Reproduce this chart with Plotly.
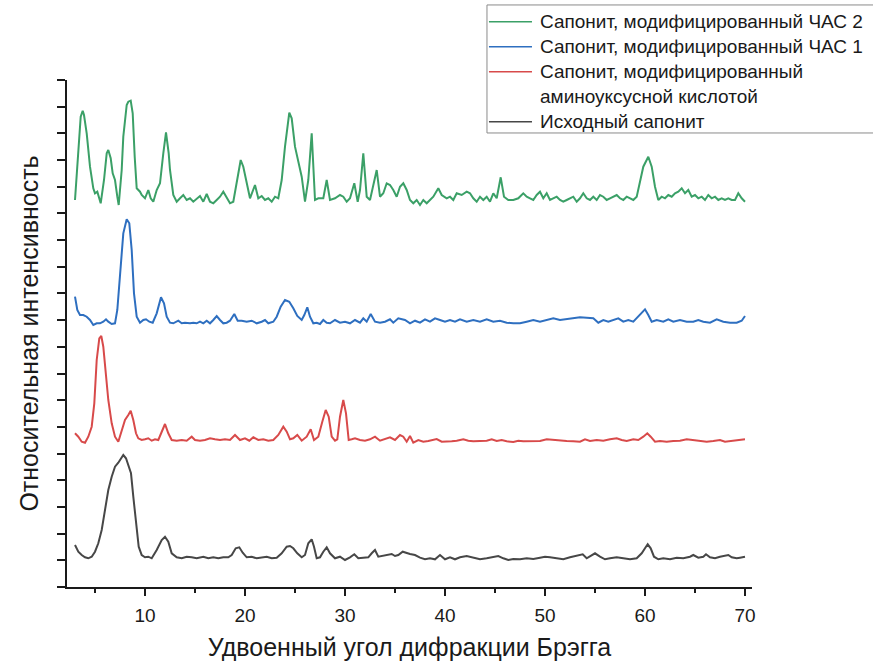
import plotly.graph_objects as go

# ---- XRD patterns (2θ, degrees ; relative intensity, a.u., stacked) ----
two_theta_sas2 = [3.0, 3.57, 3.77, 3.9, 4.17, 4.5, 4.83, 5.0, 5.23, 5.43, 5.57, 5.9, 6.17, 6.33, 6.57, 6.77, 7.0, 7.23, 7.37,
                  7.67, 7.83, 8.17, 8.33, 8.57, 8.77, 8.97, 9.17, 9.5, 9.67, 10.0, 10.33, 10.57, 10.83, 11.17, 11.5, 11.83,
                  12.1, 12.37, 12.5, 12.83, 13.17, 13.5, 13.83, 14.17, 14.5, 14.83, 15.17, 15.5, 15.83, 16.17, 16.5, 16.83,
                  17.17, 17.5, 17.83, 18.17, 18.5, 18.83, 19.17, 19.57, 19.83, 20.17, 20.5, 21.0, 21.33, 21.67, 22.0, 22.33,
                  22.67, 23.0, 23.33, 23.67, 24.0, 24.43, 24.67, 25.0, 25.33, 25.67, 26.0, 26.33, 26.67, 27.0, 27.33, 27.83,
                  28.17, 28.5, 29.0, 29.5, 29.83, 30.17, 30.5, 30.93, 31.27, 31.5, 31.83, 32.17, 32.5, 32.83, 33.17, 33.5,
                  33.83, 34.17, 34.5, 34.83, 35.17, 35.5, 35.83, 36.17, 36.5, 36.83, 37.17, 37.5, 37.83, 38.17, 38.5, 38.83,
                  39.33, 39.67, 40.17, 40.5, 40.83, 41.17, 41.67, 42.17, 42.5, 42.83, 43.17, 43.5, 43.83, 44.17, 44.5, 44.83,
                  45.17, 45.57, 45.9, 46.33, 46.83, 47.33, 47.83, 48.17, 48.5, 48.83, 49.17, 49.5, 49.83, 50.17, 50.5, 50.83,
                  51.17, 51.5, 51.83, 52.17, 52.5, 52.83, 53.17, 53.5, 53.83, 54.17, 54.5, 54.83, 55.17, 55.5, 55.83, 56.17,
                  56.5, 56.83, 57.17, 57.5, 57.83, 58.17, 58.5, 58.83, 59.17, 59.5, 59.83, 60.33, 60.67, 61.0, 61.33, 61.67,
                  62.0, 62.33, 62.67, 63.0, 63.33, 63.67, 64.0, 64.33, 64.67, 65.0, 65.33, 65.67, 66.0, 66.33, 66.67, 67.0,
                  67.33, 67.67, 68.0, 68.33, 68.67, 69.0, 69.33, 69.67, 70.0]
intensity_sas2 = [387, 470.3, 476.3, 472, 453.7, 420.3, 398.7, 393.7, 395.3, 388.7, 383.7, 407, 433.7, 437, 428.7, 413.7, 407,
                  390.3, 382, 417, 450.3, 482, 485.3, 486.3, 473.7, 430.3, 398.7, 395.3, 392, 388.7, 397, 388.7, 385.3, 397,
                  403.7, 433.7, 454.7, 433.7, 417, 392, 385.3, 388.7, 392, 387, 388.7, 385.3, 388.7, 391, 385.3, 393, 385.3,
                  383.7, 387, 390.3, 395.3, 388.7, 383.7, 385.3, 403.7, 427, 420.3, 403.7, 388.7, 402, 388.7, 391, 387, 388.7,
                  385.3, 390.3, 388.7, 407, 440.3, 474.3, 468.7, 440.3, 423.7, 410.3, 385.3, 407, 453.7, 387, 388.7, 388.7,
                  407, 387, 388.7, 392, 390.3, 385.3, 388.7, 403.7, 385.3, 397, 433.7, 390.3, 387, 400.3, 417, 390.3,
                  393.7, 403.7, 402, 397, 390.3, 400.3, 403.7, 397, 387, 383.7, 387, 382, 387, 383.7, 387, 390.3,
                  398.7, 392, 388.7, 390.3, 387, 393.7, 392, 395.3, 393.7, 388.7, 385.3, 390.3, 387, 390.3, 385.3, 393.7,
                  388.7, 409.7, 390.3, 387, 387, 388.7, 393.7, 390.3, 388.7, 387, 392, 395.3, 388.7, 393.7, 387, 388.7,
                  390.3, 387, 385.3, 387, 388.7, 390.3, 385.3, 388.7, 393.7, 388.7, 387, 390.3, 387, 392, 390.3, 387,
                  388.7, 390.3, 392, 388.7, 387, 390.3, 388.7, 387, 390.3, 407, 420.3, 430.3, 420.3, 400.3, 387, 390.3,
                  388.7, 392, 390.3, 393.7, 395.3, 398.7, 393.7, 397, 390.3, 392, 388.7, 390.3, 387, 392, 388.7, 390.3,
                  387, 388.7, 387, 388.7, 387, 387, 393.7, 388.7, 385.3]

two_theta_sas1 = [3.0, 3.23, 3.5, 3.83, 4.17, 4.5, 4.83, 5.17, 5.5, 5.83, 6.1, 6.33, 6.67, 7.0, 7.23, 7.5, 7.83, 8.17, 8.43,
                  8.67, 8.9, 9.17, 9.5, 9.83, 10.1, 10.43, 10.77, 11.17, 11.6, 11.9, 12.17, 12.5, 12.83, 13.33, 13.67, 14.0,
                  14.5, 14.83, 15.17, 15.5, 15.83, 16.17, 16.5, 16.83, 17.17, 17.5, 17.83, 18.17, 18.5, 18.93, 19.27, 19.67,
                  20.17, 20.67, 21.17, 21.67, 22.0, 22.33, 22.83, 23.17, 23.57, 24.0, 24.43, 24.83, 25.23, 25.67, 25.93,
                  26.23, 26.5, 26.83, 27.17, 27.5, 27.83, 28.17, 28.5, 29.0, 29.5, 30.0, 30.5, 31.0, 31.5, 31.83, 32.17,
                  32.57, 33.0, 33.5, 34.0, 34.5, 34.83, 35.33, 36.0, 36.5, 37.0, 37.5, 38.0, 38.5, 39.0, 39.5, 40.0, 40.5,
                  41.0, 41.5, 42.17, 42.83, 43.5, 44.17, 44.83, 45.5, 46.17, 46.83, 47.5, 48.17, 48.83, 49.5, 50.17, 50.83,
                  51.5, 52.17, 52.83, 53.5, 54.17, 54.83, 55.33, 55.83, 56.33, 56.83, 57.33, 57.83, 58.33, 58.83, 59.33,
                  60.0, 60.33, 60.67, 61.17, 61.83, 62.33, 62.83, 63.5, 64.17, 64.83, 65.33, 65.83, 66.5, 67.17, 67.83,
                  68.5, 69.17, 69.67, 70.0]
intensity_sas1 = [290.3, 277, 272, 272, 270.3, 267, 262, 263.7, 263.7, 265.3, 267.7, 265.3, 263, 263.7, 277, 313.7, 353.7,
                  367.7, 363.7, 337, 293.7, 270.3, 264.3, 267, 267.7, 265.3, 264.3, 273.7, 289.7, 283.7, 270.3, 264.3,
                  263.7, 266.3, 263.7, 264.3, 263.7, 264.3, 263.7, 265.3, 263.7, 266.3, 263.7, 267, 271, 267, 263.7, 264.3,
                  266.3, 273, 266.3, 266.3, 265.3, 266.3, 263.7, 265.3, 267, 263.7, 265.3, 270.3, 280.3, 287, 285.3, 278.7,
                  271, 267, 272, 279.7, 270.3, 263.7, 264.3, 263, 267, 264.3, 263.7, 267, 264.3, 265.3, 263.7, 267, 264.3,
                  268.7, 265.3, 273, 265.3, 264.3, 265.3, 267.7, 264.3, 268.7, 267, 263.7, 266.3, 264.3, 267.7, 265.3,
                  268.7, 267, 265.3, 267, 265.3, 267.7, 265.3, 267, 265.3, 267.7, 265.3, 266.3, 264.3, 263.7, 263.7, 265.3,
                  267, 265.3, 267, 268.7, 267, 267.7, 268.7, 269.7, 269.3, 268.7, 264.3, 267, 265.3, 267, 268.7, 265.3,
                  267, 265.3, 270.3, 277.7, 272, 265.3, 267, 265.3, 267.7, 265.3, 267, 265.3, 265.3, 267, 265.3, 264.3,
                  267.7, 265.3, 264.3, 264.3, 266.3, 271]

two_theta_gly = [3.0, 3.33, 3.67, 4.0, 4.33, 4.67, 4.93, 5.17, 5.43, 5.63, 5.83, 6.1, 6.33, 6.67, 7.0, 7.33, 7.67, 8.0, 8.33,
                 8.57, 8.83, 9.1, 9.33, 9.67, 10.0, 10.33, 10.67, 11.0, 11.33, 11.67, 12.0, 12.33, 12.67, 13.17, 13.67,
                 14.17, 14.67, 15.0, 15.5, 16.0, 16.5, 17.0, 17.5, 18.0, 18.5, 19.0, 19.5, 20.0, 20.43, 20.83, 21.33,
                 21.83, 22.33, 22.83, 23.33, 23.83, 24.17, 24.5, 24.83, 25.23, 25.67, 26.17, 26.57, 26.9, 27.33, 27.73,
                 28.07, 28.37, 28.67, 29.0, 29.23, 29.5, 29.83, 30.1, 30.37, 30.67, 31.0, 31.5, 32.0, 32.5, 33.0, 33.5,
                 34.0, 34.5, 35.0, 35.5, 35.83, 36.17, 36.5, 36.83, 37.33, 37.83, 38.33, 38.83, 39.17, 39.67, 40.17,
                 40.67, 41.17, 41.83, 42.33, 42.83, 43.5, 44.17, 44.67, 45.17, 45.67, 46.17, 46.83, 47.33, 47.83, 48.33,
                 48.83, 49.5, 50.17, 50.83, 51.5, 52.17, 52.83, 53.5, 54.0, 54.5, 55.17, 55.83, 56.5, 57.17, 57.67,
                 58.17, 58.83, 59.33, 59.83, 60.23, 60.57, 61.0, 61.5, 62.17, 62.83, 63.5, 64.17, 64.83, 65.5, 66.17,
                 66.83, 67.5, 68.0, 68.5, 69.17, 69.67, 70.0]
intensity_gly = [153.7, 150.3, 145.3, 144.3, 150.3, 160.3, 183.7, 227, 248.7, 251, 240.3, 213.7, 187, 163.7, 150.3, 145.3,
                 155.3, 167, 172, 176.3, 167, 153.7, 148.7, 147, 147.7, 148.7, 146.3, 147.7, 147, 155.3, 163, 153.7, 147,
                 146.3, 147, 146.3, 150.3, 147, 146.3, 147, 148.7, 147.7, 147, 147.7, 147, 152, 147, 148.7, 146.3, 149.7,
                 147, 147.7, 146.3, 147, 152, 160.3, 155.3, 147.7, 148.7, 152, 146.3, 150.3, 157.7, 147, 150.3, 165.3, 177,
                 170.3, 150.3, 146.3, 147.7, 170.3, 187, 173.7, 147, 147.7, 148.7, 147, 146.3, 147.7, 150.3, 146.3, 147.7,
                 149.7, 147, 152, 150.3, 145.3, 151, 144.3, 147, 145.3, 146, 147, 148, 145.3, 145.3, 145.7, 146.3, 147.7,
                 146.3, 145.7, 146, 146.3, 147.7, 146, 147, 145.7, 145, 146.3, 145.7, 146, 146.3, 146, 147.7, 147, 146.3,
                 146, 145.7, 145.3, 147.7, 146, 147, 146.3, 147.7, 148.7, 147, 146, 147.7, 147, 150.3, 153.7, 150.3, 145.3,
                 146, 145.3, 146, 146.3, 147.7, 147, 146, 145.3, 146, 147, 145.3, 146, 146.3, 147, 147.7]

two_theta_raw = [3.0, 3.33, 3.67, 4.0, 4.33, 4.67, 5.0, 5.33, 5.67, 6.0, 6.33, 6.67, 7.0, 7.33, 7.6, 7.83, 8.1, 8.33, 8.6,
                 8.83, 9.1, 9.37, 9.67, 10.0, 10.33, 10.67, 11.17, 11.67, 12.0, 12.33, 12.67, 13.17, 13.67, 14.17, 14.67,
                 15.17, 15.83, 16.33, 16.83, 17.33, 17.83, 18.33, 18.67, 19.07, 19.43, 19.77, 20.17, 20.67, 21.17, 21.67,
                 22.17, 22.67, 23.17, 23.67, 24.17, 24.5, 24.83, 25.23, 25.67, 26.0, 26.33, 26.67, 26.9, 27.17, 27.5,
                 27.83, 28.17, 28.5, 29.0, 29.5, 30.0, 30.5, 30.93, 31.33, 31.83, 32.33, 32.67, 33.0, 33.33, 33.67, 34.17,
                 34.67, 35.0, 35.33, 35.77, 36.17, 36.5, 37.0, 37.5, 38.0, 38.5, 39.0, 39.5, 40.0, 40.5, 41.0, 41.5,
                 42.17, 42.83, 43.5, 44.17, 44.83, 45.33, 45.83, 46.33, 46.83, 47.5, 48.17, 48.83, 49.5, 50.0, 50.5,
                 51.17, 51.83, 52.5, 53.17, 53.77, 54.17, 54.57, 55.0, 55.5, 56.0, 56.5, 57.17, 57.83, 58.5, 59.17, 59.67,
                 60.0, 60.27, 60.57, 60.9, 61.33, 61.83, 62.5, 63.17, 63.83, 64.5, 64.83, 65.33, 65.83, 66.1, 66.5, 67.0,
                 67.5, 68.0, 68.33, 68.67, 69.17, 69.5, 70.0]
intensity_raw = [42, 35.3, 32, 29.7, 28.7, 30.3, 35.3, 43.7, 57, 77, 97, 110.3, 120.3, 124.3, 128.7, 132, 128.7, 122, 113.7,
                 90.3, 63.7, 40.3, 32, 29.7, 30.3, 28.7, 37, 47, 50.3, 45.3, 33.7, 29.7, 28.7, 30.3, 29.7, 28.7, 30.3,
                 28.7, 29.7, 28.7, 29.7, 29.7, 32, 38.7, 39.7, 34.3, 29.7, 30.3, 28.7, 29.7, 30.3, 28.7, 29.3, 33.7,
                 40.3, 41, 38.7, 33.7, 29.7, 32, 43.7, 47.7, 40.3, 28.7, 29.7, 35.3, 39.7, 33.7, 28.7, 30.3, 27, 29.7,
                 32.7, 28.7, 29.3, 29.7, 33.7, 37, 30.3, 31, 32, 33, 31, 32, 35.3, 33.7, 33, 32, 29.3, 27.7, 28.7, 27.7,
                 32, 27.7, 29.7, 27.7, 29.7, 31, 29.3, 27.7, 28.7, 29.7, 31, 28.7, 27, 28, 27.7, 28.7, 28, 29.3, 30.3,
                 29.7, 28.7, 27.7, 29.7, 31, 32.7, 28.7, 31, 33.7, 30.3, 27.7, 28.7, 29.7, 28.7, 27.7, 28.7, 33.7, 38.7,
                 42.7, 38.7, 30.3, 27.7, 28.7, 27.7, 29.3, 28.7, 30.3, 32, 29.3, 30.3, 32.7, 29.7, 28.7, 30.3, 31, 32,
                 29.7, 28.7, 29.3, 30.3]

series_names = [
    "Сапонит, модифицированный ЧАС 2",
    "Сапонит, модифицированный ЧАС 1",
    "Сапонит, модифицированный<br>аминоуксусной кислотой",
    "Исходный сапонит",
]
series_colors = ["#3ba067", "#2e6fc0", "#d84a4a", "#474747"]

x_title = "Удвоенный угол дифракции Брэгга"
y_title = "Относительная интенсивность"
x_ticks = [10, 20, 30, 40, 50, 60, 70]

FONT = "Liberation Sans, Arial, sans-serif"
INK = "#1a1a1a"

fig = go.Figure()
series = [
    (two_theta_sas2, intensity_sas2),
    (two_theta_sas1, intensity_sas1),
    (two_theta_gly, intensity_gly),
    (two_theta_raw, intensity_raw),
]
for (xs, ys), name, color in zip(series, series_names, series_colors):
    fig.add_trace(go.Scatter(x=xs, y=ys, mode="lines", name=name,
                             line=dict(color=color, width=2), showlegend=False))

# framed legend in the upper-right corner, drawn in paper coordinates
shapes = [dict(type="rect", xref="paper", yref="paper", x0=0.6131, x1=1.20, y0=0.8955, y1=1.148,
               line=dict(color="#8a8a8a", width=1), fillcolor="rgba(0,0,0,0)", layer="above")]
annotations = []
row_y = [1.115, 1.0657, 1.0164, 0.9178]
for name, color, yy in zip(series_names, series_colors, row_y):
    shapes.append(dict(type="line", xref="paper", yref="paper", x0=0.616, x1=0.6788, y0=yy, y1=yy,
                       line=dict(color=color, width=1.5)))
    lines = name.split("<br>")
    annotations.append(dict(xref="paper", yref="paper", x=0.6876, y=yy, text=lines[0],
                            showarrow=False, xanchor="left", yanchor="middle",
                            font=dict(family=FONT, size=19, color=INK)))
    if len(lines) > 1:
        annotations.append(dict(xref="paper", yref="paper", x=0.6876, y=0.9684, text=lines[1],
                                showarrow=False, xanchor="left", yanchor="middle",
                                font=dict(family=FONT, size=19, color=INK)))

fig.update_layout(
    width=873, height=661,
    margin=dict(l=67, r=121, t=80, b=74),
    paper_bgcolor="white", plot_bgcolor="white",
    font=dict(family=FONT, size=18, color=INK),
    shapes=shapes, annotations=annotations,
    showlegend=False,
)
fig.update_xaxes(
    range=[2.2, 70.7], tickvals=x_ticks, ticks="outside", ticklen=7, tickwidth=1.5, tickcolor=INK,
    showline=True, linecolor=INK, linewidth=1.5, showgrid=False, zeroline=False, automargin=False,
    tickfont=dict(size=19, color=INK), ticklabelstandoff=3,
    minor=dict(dtick=5, tick0=0, ticks="outside", ticklen=4, tickwidth=1.5, tickcolor=INK),
    title=dict(text=x_title, font=dict(size=25, color=INK), standoff=18),
)
fig.update_yaxes(
    range=[0, 507], tick0=0, dtick=507 / 19, ticks="outside", ticklen=8, tickwidth=1.5, tickcolor=INK,
    showticklabels=False, showline=True, linecolor=INK, linewidth=1.5, showgrid=False, zeroline=False,
    automargin=False,
    title=dict(text=y_title, font=dict(size=25, color=INK), standoff=12),
)

fig.write_html("out.html")
